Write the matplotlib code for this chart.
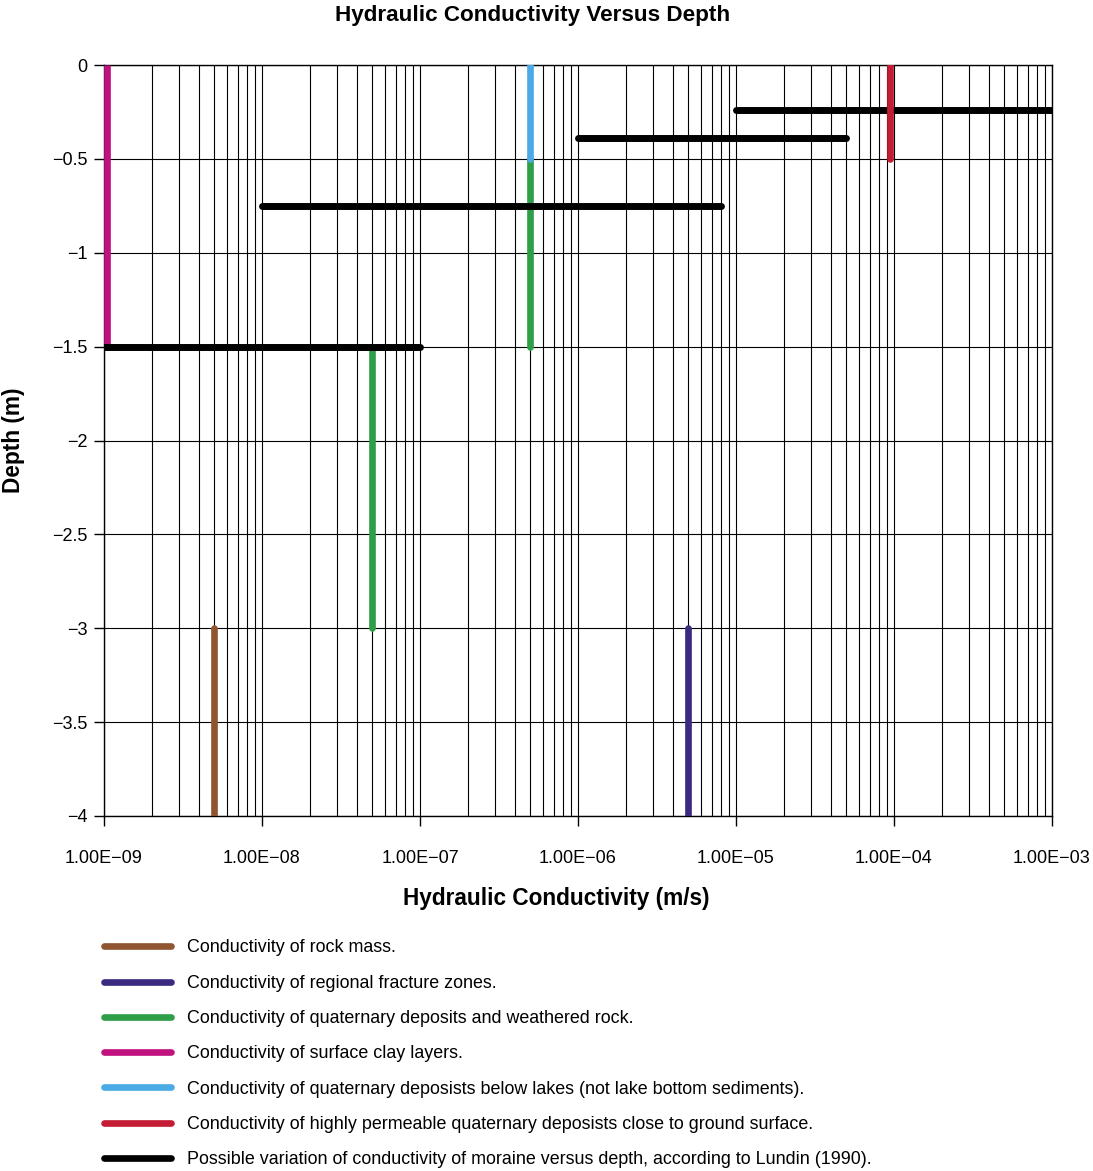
import numpy as np
import matplotlib
matplotlib.use("Agg")
import matplotlib.pyplot as plt
from matplotlib.ticker import LogLocator, NullFormatter, FixedLocator

plt.rcParams['font.family'] = ['Liberation Sans', 'DejaVu Sans']

# ---- data ----
rock_mass_k = [5e-9, 5e-9]
rock_mass_depth = [-3.0, -4.0]

fracture_k = [5e-6, 5e-6]
fracture_depth = [-3.0, -4.0]

quaternary_k = [5e-8, 5e-8, np.nan, 5e-7, 5e-7]
quaternary_depth = [-1.5, -3.0, np.nan, -0.5, -1.5]

clay_k = [1.05e-9, 1.05e-9]
clay_depth = [0.0, -1.5]

lakes_k = [5e-7, 5e-7]
lakes_depth = [0.0, -0.5]

permeable_k = [9.5e-5, 9.5e-5]
permeable_depth = [0.0, -0.5]

moraine_k = [1e-9, 1e-7, np.nan, 1e-8, 8e-6, np.nan, 1e-6, 5e-5, np.nan, 1e-5, 1e-3]
moraine_depth = [-1.5, -1.5, np.nan, -0.75, -0.75, np.nan, -0.39, -0.39, np.nan, -0.24, -0.24]

labels = [
    "Conductivity of rock mass.",
    "Conductivity of regional fracture zones.",
    "Conductivity of quaternary deposits and weathered rock.",
    "Conductivity of surface clay layers.",
    "Conductivity of quaternary deposists below lakes (not lake bottom sediments).",
    "Conductivity of highly permeable quaternary deposists close to ground surface.",
    "Possible variation of conductivity of moraine versus depth, according to Lundin (1990).",
]

x_ticks = [1e-9, 1e-8, 1e-7, 1e-6, 1e-5, 1e-4, 1e-3]
x_tick_labels = ["1.00E\u221209", "1.00E\u221208", "1.00E\u221207", "1.00E\u221206",
                 "1.00E\u221205", "1.00E\u221204", "1.00E\u221203"]
y_ticks = [0, -0.5, -1, -1.5, -2, -2.5, -3, -3.5, -4]
y_tick_labels = ["0", "\u22120.5", "\u22121", "\u22121.5", "\u22122", "\u22122.5",
                 "\u22123", "\u22123.5", "\u22124"]

colors = {
    "rock": "#8E5530",
    "fracture": "#3B2A80",
    "quaternary": "#2E9E48",
    "clay": "#C0127F",
    "lakes": "#4AAAE6",
    "permeable": "#C41C34",
    "moraine": "#000000",
}

W, H = 1093, 1171
fig = plt.figure(figsize=(W / 100, H / 100), dpi=100)
ax = fig.add_axes([104 / W, 1 - 816 / H, (1052 - 104) / W, (816 - 65) / H])

ax.set_xscale("log")
ax.set_xlim(1e-9, 1e-3)
ax.set_ylim(-4, 0)

lw_c = 4.8
lw_k = 5.0
h_rock, = ax.plot(rock_mass_k, rock_mass_depth, color=colors["rock"], lw=lw_c,
                  solid_capstyle="round", zorder=3)
h_frac, = ax.plot(fracture_k, fracture_depth, color=colors["fracture"], lw=lw_c,
                  solid_capstyle="round", zorder=3)
h_quat, = ax.plot(quaternary_k, quaternary_depth, color=colors["quaternary"], lw=lw_c,
                  solid_capstyle="round", zorder=3)
h_lake, = ax.plot(lakes_k, lakes_depth, color=colors["lakes"], lw=lw_c,
                  solid_capstyle="round", zorder=3.5)
h_clay, = ax.plot(clay_k, clay_depth, color=colors["clay"], lw=lw_c,
                  solid_capstyle="butt", zorder=3)
h_mor, = ax.plot(moraine_k, moraine_depth, color=colors["moraine"], lw=lw_k,
                 solid_capstyle="round", zorder=4)
h_perm, = ax.plot(permeable_k, permeable_depth, color=colors["permeable"], lw=lw_c,
                  solid_capstyle="round", zorder=5)

# grid
ax.xaxis.set_major_locator(FixedLocator(x_ticks))
ax.xaxis.set_minor_locator(LogLocator(base=10, subs=np.arange(2, 10), numticks=100))
ax.xaxis.set_minor_formatter(NullFormatter())
ax.set_xticklabels(x_tick_labels)
ax.set_yticks(y_ticks)
ax.set_yticklabels(y_tick_labels)
ax.grid(True, which="major", color="black", lw=0.8, zorder=1)
ax.grid(True, which="minor", axis="x", color="black", lw=0.8, zorder=1)
ax.set_axisbelow(True)

ax.tick_params(axis="x", which="major", direction="out", length=7, width=1,
               pad=17.5, labelsize=13)
ax.tick_params(axis="x", which="minor", length=0)
ax.tick_params(axis="y", which="major", direction="out", length=7, width=1,
               pad=5, labelsize=13)
for s in ax.spines.values():
    s.set_color("black")
    s.set_linewidth(1.0)

ax.set_xlabel("Hydraulic Conductivity (m/s)", fontsize=16.3, fontweight="bold")
ax.xaxis.set_label_coords((556 - 104) / 948, (816 - 887) / 751)
ax.set_ylabel("Depth (m)", fontsize=16.3, fontweight="bold")
ax.yaxis.set_label_coords((25 - 104) / 948, 0.5)

fig.text(533 / W, 1 - 15 / H, "Hydraulic Conductivity Versus Depth",
         ha="center", va="center", fontsize=16.2, fontweight="bold")

handles = [h_rock, h_frac, h_quat, h_clay, h_lake, h_perm, h_mor]
leg = fig.legend(handles, labels, loc="upper left",
                 bbox_to_anchor=(104 / W, 1 - 939.5 / H),
                 frameon=False, fontsize=12.9, handlelength=3.75,
                 handletextpad=0.9, labelspacing=1.02, borderpad=0,
                 borderaxespad=0)
for lh in leg.get_lines():
    lh.set_linewidth(4.8)
    lh.set_solid_capstyle("round")

fig.savefig("out.png", dpi=100)
